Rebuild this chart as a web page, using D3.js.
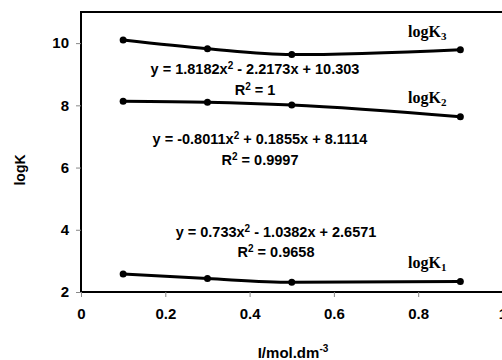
<!DOCTYPE html>
<html>
<head>
<meta charset="utf-8">
<script src="https://cdn.jsdelivr.net/npm/d3@7"></script>
<style>
  body { margin: 0; background: #fff; }
  text { font-family: "Liberation Sans", Arial, sans-serif; font-weight: bold; }
  .serif { font-family: "Liberation Serif", "Times New Roman", serif; }
</style>
</head>
<body>
<svg id="viz" width="502" height="360"></svg>
<script>
// ionic strength values and the three stability constants
const ionic = [0.1, 0.3, 0.5, 0.9];
const logK3 = [10.1, 9.82, 9.63, 9.79];
const logK2 = [8.13, 8.1, 8.01, 7.63];
const logK1 = [2.58, 2.43, 2.31, 2.34];
const xTicks = [0, 0.2, 0.4, 0.6, 0.8, 1];
const yTicks = [2, 4, 6, 8, 10];
const equations = [
  ["y = 1.8182x", " - 2.2173x + 10.303", "R", " = 1"],
  ["y = -0.8011x", " + 0.1855x + 8.1114", "R", " = 0.9997"],
  ["y = 0.733x", " - 1.0382x + 2.6571", "R", " = 0.9658"]
];
const seriesNames = ["3", "2", "1"];

let svg = d3.select("#viz");
const plotLeft = 81, plotTop = 12, plotBottom = 292, plotRight = 502.5;

let x = d3.scaleLinear().domain([0, 1]).range([plotLeft, plotRight]);
let y = d3.scaleLinear().domain([2, 11]).range([plotBottom, plotTop]);

// frame
svg.append("rect")
    .attr("x", plotLeft).attr("y", plotTop)
    .attr("width", plotRight - plotLeft + 5).attr("height", plotBottom - plotTop)
    .style("fill", "none").style("stroke", "black").style("stroke-width", 2);

// axes
let xAxis = svg.append("g")
    .attr("transform", "translate(0," + plotBottom + ")")
    .call(d3.axisBottom(x).tickValues(xTicks).tickSize(5).tickSizeOuter(0).tickFormat(d3.format("")));
xAxis.select(".domain").remove();
xAxis.selectAll("line").style("stroke", "#888");
xAxis.selectAll("text").attr("font-size", 15).attr("dy", null).attr("y", 27)
    .style("fill", "black");

let yAxis = svg.append("g")
    .attr("transform", "translate(" + plotLeft + ",0)")
    .call(d3.axisLeft(y).tickValues(yTicks).tickSize(5).tickSizeOuter(0));
yAxis.select(".domain").remove();
yAxis.selectAll("line").style("stroke", "#888");
yAxis.selectAll("text").attr("font-size", 15).attr("x", -12).style("fill", "black");

// axis titles
svg.append("text")
    .attr("transform", "translate(25,170) rotate(-90)")
    .attr("text-anchor", "middle")
    .attr("font-size", 14)
    .text("logK");

let xt = svg.append("text")
    .attr("x", 293).attr("y", 358)
    .attr("text-anchor", "middle")
    .attr("font-size", 15);
xt.append("tspan").text("I/mol.dm");
xt.append("tspan").attr("font-size", 10).attr("dy", -6).text("-3");

// series lines and markers
let series = [logK3, logK2, logK1];
let line = d3.line()
    .x((d, i) => x(ionic[i]))
    .y(d => y(d))
    .curve(d3.curveMonotoneX);

series.forEach(function (vals) {
    svg.append("path")
        .datum(vals)
        .attr("d", line)
        .style("fill", "none")
        .style("stroke", "black")
        .style("stroke-width", 3);
    svg.selectAll(null)
        .data(vals)
        .join("circle")
        .attr("cx", (d, i) => x(ionic[i]))
        .attr("cy", d => y(d))
        .attr("r", 3.5)
        .style("fill", "black");
});

// trendline equations
const eqPos = [[255, 74, 95], [260, 144, 165], [276, 237, 257]];
equations.forEach(function (eq, i) {
    let p = eqPos[i];
    let t1 = svg.append("text").attr("x", p[0]).attr("y", p[1])
        .attr("text-anchor", "middle").attr("font-size", 14.5);
    t1.append("tspan").text(eq[0]);
    t1.append("tspan").attr("font-size", 10).attr("dy", -5).text("2");
    t1.append("tspan").attr("dy", 5).text(eq[1]);
    let t2 = svg.append("text").attr("x", p[0]).attr("y", p[2])
        .attr("text-anchor", "middle").attr("font-size", 14.5);
    t2.append("tspan").text(eq[2]);
    t2.append("tspan").attr("font-size", 10).attr("dy", -5).text("2");
    t2.append("tspan").attr("dy", 5).text(eq[3]);
});

// series names
const namePos = [37, 103, 268];
seriesNames.forEach(function (n, i) {
    let t = svg.append("text").classed("serif", true)
        .attr("x", 408).attr("y", namePos[i])
        .attr("font-size", 16);
    t.append("tspan").text("logK");
    t.append("tspan").attr("font-size", 11).attr("dy", 3).text(n);
});
</script>
</body>
</html>
